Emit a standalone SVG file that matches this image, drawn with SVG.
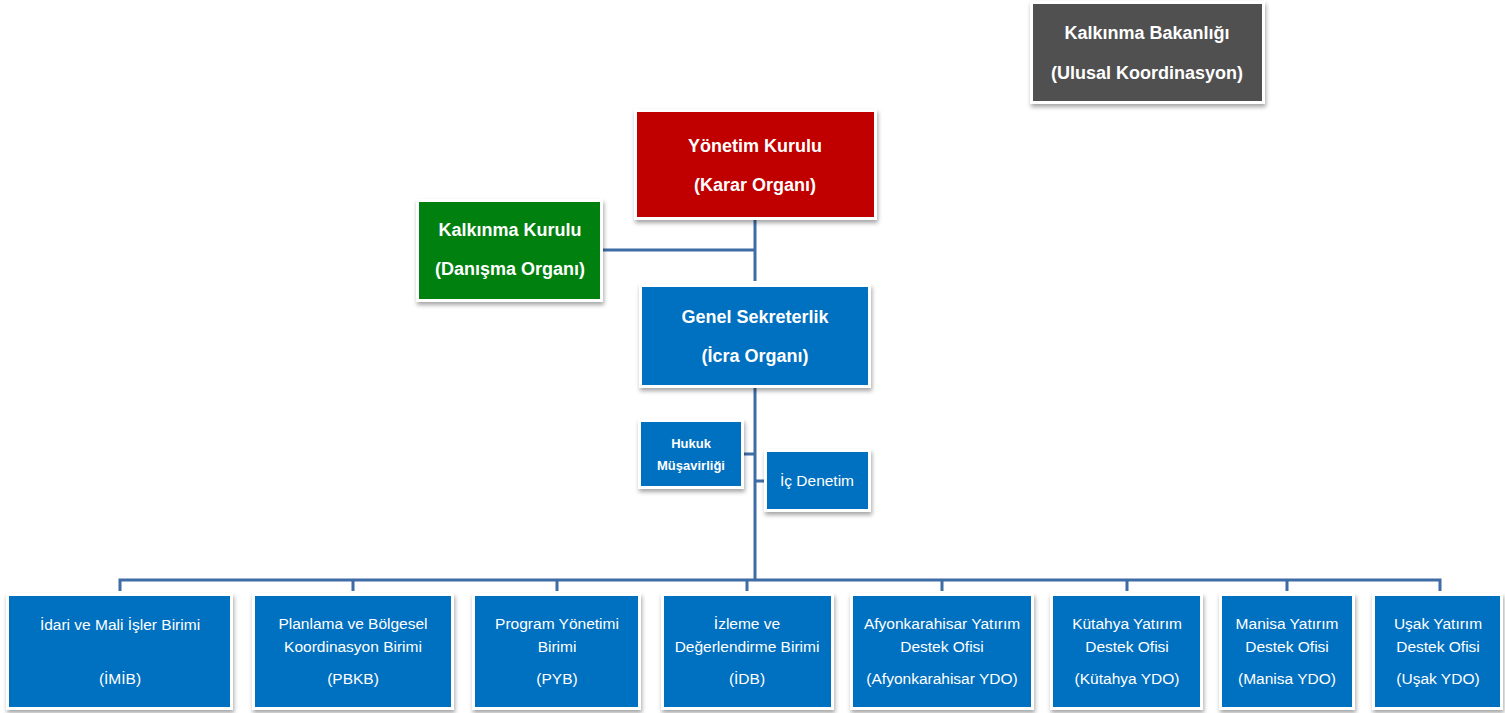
<svg xmlns="http://www.w3.org/2000/svg" width="1505" height="713" viewBox="0 0 1505 713">
<defs>
<filter id="sh" x="-10%" y="-10%" width="120%" height="130%">
<feDropShadow dx="1" dy="3" stdDeviation="2" flood-color="#000" flood-opacity="0.35"/>
</filter>
<style>
.frame{fill:#fff;filter:url(#sh)}
.gray{fill:#505050}
.red{fill:#c00000}
.green{fill:#00800f}
.blue{fill:#0070c0}
.t{fill:#fff;font-family:"Liberation Sans",Arial,sans-serif;text-anchor:middle}
.tb{font-weight:bold;font-size:18px}
.tm{font-size:15.5px}
.ts{font-weight:bold;font-size:13px}
.c{stroke:#3f6ca6;stroke-width:3;fill:none}
</style>
</defs>
<g id="connectors">
<path class="c" d="M755 217V281"/>
<path class="c" d="M602 250H755"/>
<path class="c" d="M755 385V580"/>
<path class="c" d="M741 454H755"/>
<path class="c" d="M755 481H767"/>
<path class="c" d="M120 591V580H1440V591"/>
<path class="c" d="M353 580V591M557 580V591M747 580V591M942 580V591M1127 580V591M1287 580V591"/>
</g>
<g id="bakanlik">
<rect class="frame" x="1030" y="1" width="235" height="103"/>
<rect class="gray" x="1033" y="4" width="229" height="97"/>
<text class="t tb" x="1147" y="39">Kalkınma Bakanlığı</text>
<text class="t tb" x="1147" y="79">(Ulusal Koordinasyon)</text>
</g>
<g id="yonetim">
<rect class="frame" x="634" y="109" width="243" height="111"/>
<rect class="red" x="637" y="112" width="237" height="105"/>
<text class="t tb" x="755" y="152">Yönetim Kurulu</text>
<text class="t tb" x="755" y="191">(Karar Organı)</text>
</g>
<g id="kalkinma">
<rect class="frame" x="416" y="199" width="187" height="103"/>
<rect class="green" x="419" y="202" width="181" height="97"/>
<text class="t tb" x="510" y="236">Kalkınma Kurulu</text>
<text class="t tb" x="510" y="275">(Danışma Organı)</text>
</g>
<g id="genel">
<rect class="frame" x="639" y="284" width="232" height="104"/>
<rect class="blue" x="642" y="287" width="226" height="98"/>
<text class="t tb" x="755" y="323">Genel Sekreterlik</text>
<text class="t tb" x="755" y="362">(İcra Organı)</text>
</g>
<g id="hukuk">
<rect class="frame" x="638" y="419" width="106" height="70"/>
<rect class="blue" x="641" y="422" width="100" height="64"/>
<text class="t ts" x="691" y="448">Hukuk</text>
<text class="t ts" x="691" y="470">Müşavirliği</text>
</g>
<g id="icdenetim">
<rect class="frame" x="764" y="449" width="107" height="63"/>
<rect class="blue" x="767" y="452" width="101" height="57"/>
<text class="t tm" x="817" y="486">İç Denetim</text>
</g>
<g id="imib">
<rect class="frame" x="6" y="593" width="227" height="117"/>
<rect class="blue" x="9" y="596" width="221" height="111"/>
<text class="t tm" x="120" y="630">İdari ve Mali İşler Birimi</text>
<text class="t tm" x="120" y="684">(İMİB)</text>
</g>
<g id="pbkb">
<rect class="frame" x="252" y="593" width="202" height="117"/>
<rect class="blue" x="255" y="596" width="196" height="111"/>
<text class="t tm" x="353" y="629">Planlama ve Bölgesel</text>
<text class="t tm" x="353" y="652">Koordinasyon Birimi</text>
<text class="t tm" x="353" y="684">(PBKB)</text>
</g>
<g id="pyb">
<rect class="frame" x="472" y="593" width="169" height="117"/>
<rect class="blue" x="475" y="596" width="163" height="111"/>
<text class="t tm" x="557" y="629">Program Yönetimi</text>
<text class="t tm" x="557" y="652">Birimi</text>
<text class="t tm" x="557" y="684">(PYB)</text>
</g>
<g id="idb">
<rect class="frame" x="661" y="593" width="173" height="117"/>
<rect class="blue" x="664" y="596" width="167" height="111"/>
<text class="t tm" x="747" y="629">İzleme ve</text>
<text class="t tm" x="747" y="652">Değerlendirme Birimi</text>
<text class="t tm" x="747" y="684">(İDB)</text>
</g>
<g id="afyon">
<rect class="frame" x="850" y="593" width="184" height="117"/>
<rect class="blue" x="853" y="596" width="178" height="111"/>
<text class="t tm" x="942" y="629">Afyonkarahisar Yatırım</text>
<text class="t tm" x="942" y="652">Destek Ofisi</text>
<text class="t tm" x="942" y="684">(Afyonkarahisar YDO)</text>
</g>
<g id="kutahya">
<rect class="frame" x="1050" y="593" width="153" height="117"/>
<rect class="blue" x="1053" y="596" width="147" height="111"/>
<text class="t tm" x="1127" y="629">Kütahya Yatırım</text>
<text class="t tm" x="1127" y="652">Destek Ofisi</text>
<text class="t tm" x="1127" y="684">(Kütahya YDO)</text>
</g>
<g id="manisa">
<rect class="frame" x="1219" y="593" width="136" height="117"/>
<rect class="blue" x="1222" y="596" width="130" height="111"/>
<text class="t tm" x="1287" y="629">Manisa Yatırım</text>
<text class="t tm" x="1287" y="652">Destek Ofisi</text>
<text class="t tm" x="1287" y="684">(Manisa YDO)</text>
</g>
<g id="usak">
<rect class="frame" x="1372" y="593" width="131" height="117"/>
<rect class="blue" x="1375" y="596" width="125" height="111"/>
<text class="t tm" x="1438" y="629">Uşak Yatırım</text>
<text class="t tm" x="1438" y="652">Destek Ofisi</text>
<text class="t tm" x="1438" y="684">(Uşak YDO)</text>
</g>
</svg>
